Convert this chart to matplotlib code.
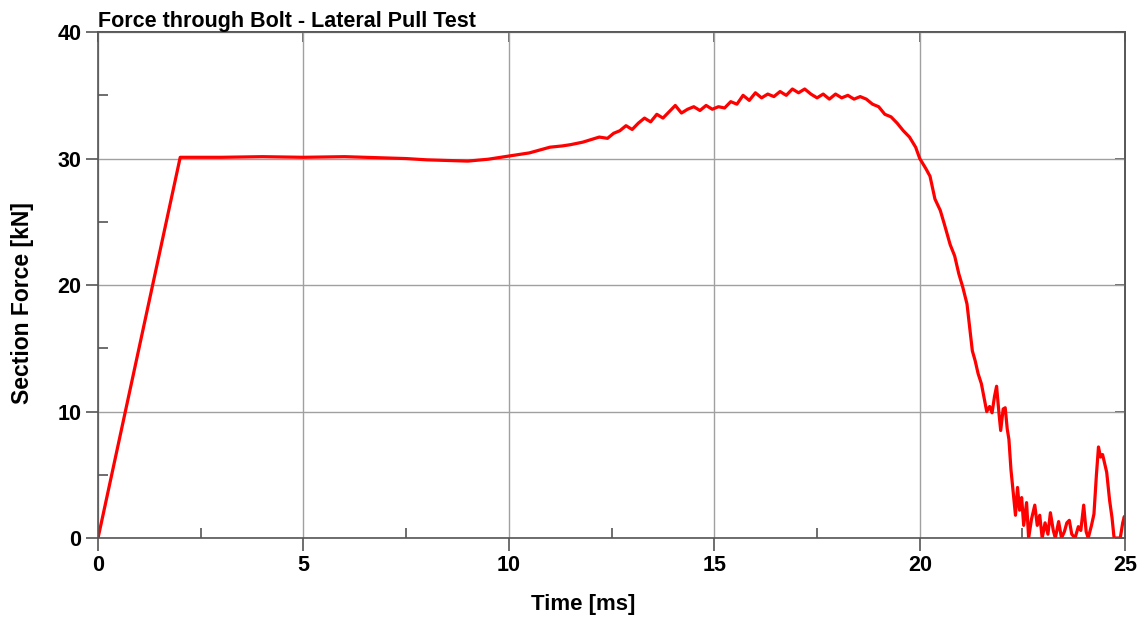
import matplotlib.pyplot as plt
from matplotlib.ticker import MultipleLocator

# valeurs
temps = [0, 2.0, 3, 4, 5, 6, 7, 7.5, 8, 8.5, 9, 9.5, 10, 10.5, 11.0, 11.3, 11.5, 11.8,
         12.0, 12.2, 12.4, 12.55, 12.7, 12.85, 13.0, 13.15, 13.3, 13.45, 13.6, 13.75,
         13.9, 14.05, 14.2, 14.35, 14.5, 14.65, 14.8, 14.95, 15.1, 15.25, 15.4, 15.55,
         15.7, 15.85, 16.0, 16.15, 16.3, 16.45, 16.6, 16.75, 16.9, 17.05, 17.2, 17.35,
         17.5, 17.65, 17.8, 17.95, 18.1, 18.25, 18.4, 18.55, 18.7, 18.85, 19.0, 19.15,
         19.3, 19.45, 19.6, 19.75, 19.9, 20.0, 20.15, 20.25, 20.37, 20.5, 20.6, 20.74,
         20.85, 20.95, 21.05, 21.15, 21.22, 21.28, 21.35, 21.42, 21.5, 21.57, 21.63,
         21.7, 21.76, 21.82, 21.87, 21.93, 21.97, 22.03, 22.08, 22.13, 22.17, 22.22,
         22.28, 22.33, 22.38, 22.43, 22.48, 22.53, 22.6, 22.65, 22.72, 22.8, 22.86,
         22.92, 22.98, 23.05, 23.12, 23.18, 23.25, 23.3, 23.38, 23.45, 23.52, 23.58,
         23.64, 23.7, 23.78, 23.86, 23.92, 23.99, 24.05, 24.1, 24.18, 24.24, 24.3,
         24.35, 24.4, 24.45, 24.55, 24.62, 24.68, 24.73, 24.8, 24.88, 24.94, 24.98, 25.0]
force = [0, 30.1, 30.1, 30.15, 30.1, 30.15, 30.05, 30.0, 29.9, 29.85, 29.8, 29.95, 30.2,
         30.45, 30.9, 31.0, 31.1, 31.3, 31.5, 31.7, 31.6, 32.0, 32.2, 32.6, 32.3, 32.8,
         33.2, 32.9, 33.5, 33.2, 33.7, 34.2, 33.6, 33.9, 34.1, 33.8, 34.2, 33.9, 34.1,
         34.0, 34.5, 34.3, 35.0, 34.6, 35.2, 34.8, 35.1, 34.9, 35.3, 35.0, 35.5, 35.2,
         35.5, 35.1, 34.8, 35.1, 34.7, 35.1, 34.8, 35.0, 34.7, 34.9, 34.7, 34.3, 34.1,
         33.5, 33.3, 32.8, 32.2, 31.7, 30.9, 30.0, 29.2, 28.6, 26.8, 25.9, 24.8, 23.2,
         22.3, 20.9, 19.8, 18.5, 16.5, 14.8, 14.0, 13.0, 12.2, 11.0, 10.0, 10.4, 9.9,
         11.2, 12.0, 9.8, 8.5, 10.2, 10.3, 8.6, 7.8, 5.4, 3.4, 1.8, 4.0, 2.2, 3.2, 1.0,
         2.8, 0.0, 1.5, 2.6, 1.0, 1.8, 0.0, 1.2, 0.3, 2.0, 0.6, 0.0, 1.3, 0.0, 0.5, 1.2,
         1.4, 0.3, 0.0, 0.9, 0.6, 2.6, 0.5, 0.0, 1.0, 1.9, 5.0, 7.2, 6.4, 6.6, 5.2, 3.0,
         1.6, 0.0, 0.0, 0.0, 1.2, 1.7, 1.2]

plt.rcParams['font.family'] = 'Liberation Sans'
plt.rcParams['font.weight'] = 'bold'

fig = plt.figure(figsize=(11.4, 6.17), dpi=100)
ax = fig.add_axes([0.086, 0.128, 0.901, 0.82])

ax.plot(temps, force, color='#ff0000', lw=2.3)
ax.set_xlim(0, 25)
ax.set_ylim(0, 40)
ax.xaxis.set_major_locator(MultipleLocator(5))
ax.xaxis.set_minor_locator(MultipleLocator(2.5))
ax.yaxis.set_major_locator(MultipleLocator(10))
ax.yaxis.set_minor_locator(MultipleLocator(5))
ax.grid(True, which='major', color='#a0a0a0', lw=1.0)

grisAxe = '#555555'
for s in ax.spines.values():
    s.set_color(grisAxe)
    s.set_linewidth(1.2)
ax.tick_params(which='major', direction='out', length=9, width=1.2, color=grisAxe,
               labelsize=15.5, pad=3)
ax.tick_params(which='minor', direction='in', length=7, width=1.2, color=grisAxe)

# graduations interieures en haut et a droite (majeures seulement)
haut = ax.secondary_xaxis('top')
haut.xaxis.set_major_locator(MultipleLocator(5))
haut.tick_params(which='major', direction='in', length=7, width=1.2, color=grisAxe, labeltop=False)
haut.tick_params(which='minor', length=0)
droite = ax.secondary_yaxis('right')
droite.yaxis.set_major_locator(MultipleLocator(10))
droite.tick_params(which='major', direction='in', length=7, width=1.2, color=grisAxe, labelright=False)
droite.tick_params(which='minor', length=0)
for sec in (haut, droite):
    for s in sec.spines.values():
        s.set_color(grisAxe)
        s.set_linewidth(1.2)

ax.set_title("Force through Bolt - Lateral Pull Test", loc='left', fontsize=15.5,
             fontweight='bold', pad=3)
ax.set_xlabel("Time [ms]", fontsize=16, fontweight='bold', va='center')
ax.set_ylabel("Section Force [kN]", fontsize=16.5, fontweight='bold', va='center')
ax.xaxis.set_label_coords(0.472, -0.132)
ax.yaxis.set_label_coords(-0.074, 0.464)

fig.savefig("out.png", dpi=100)
